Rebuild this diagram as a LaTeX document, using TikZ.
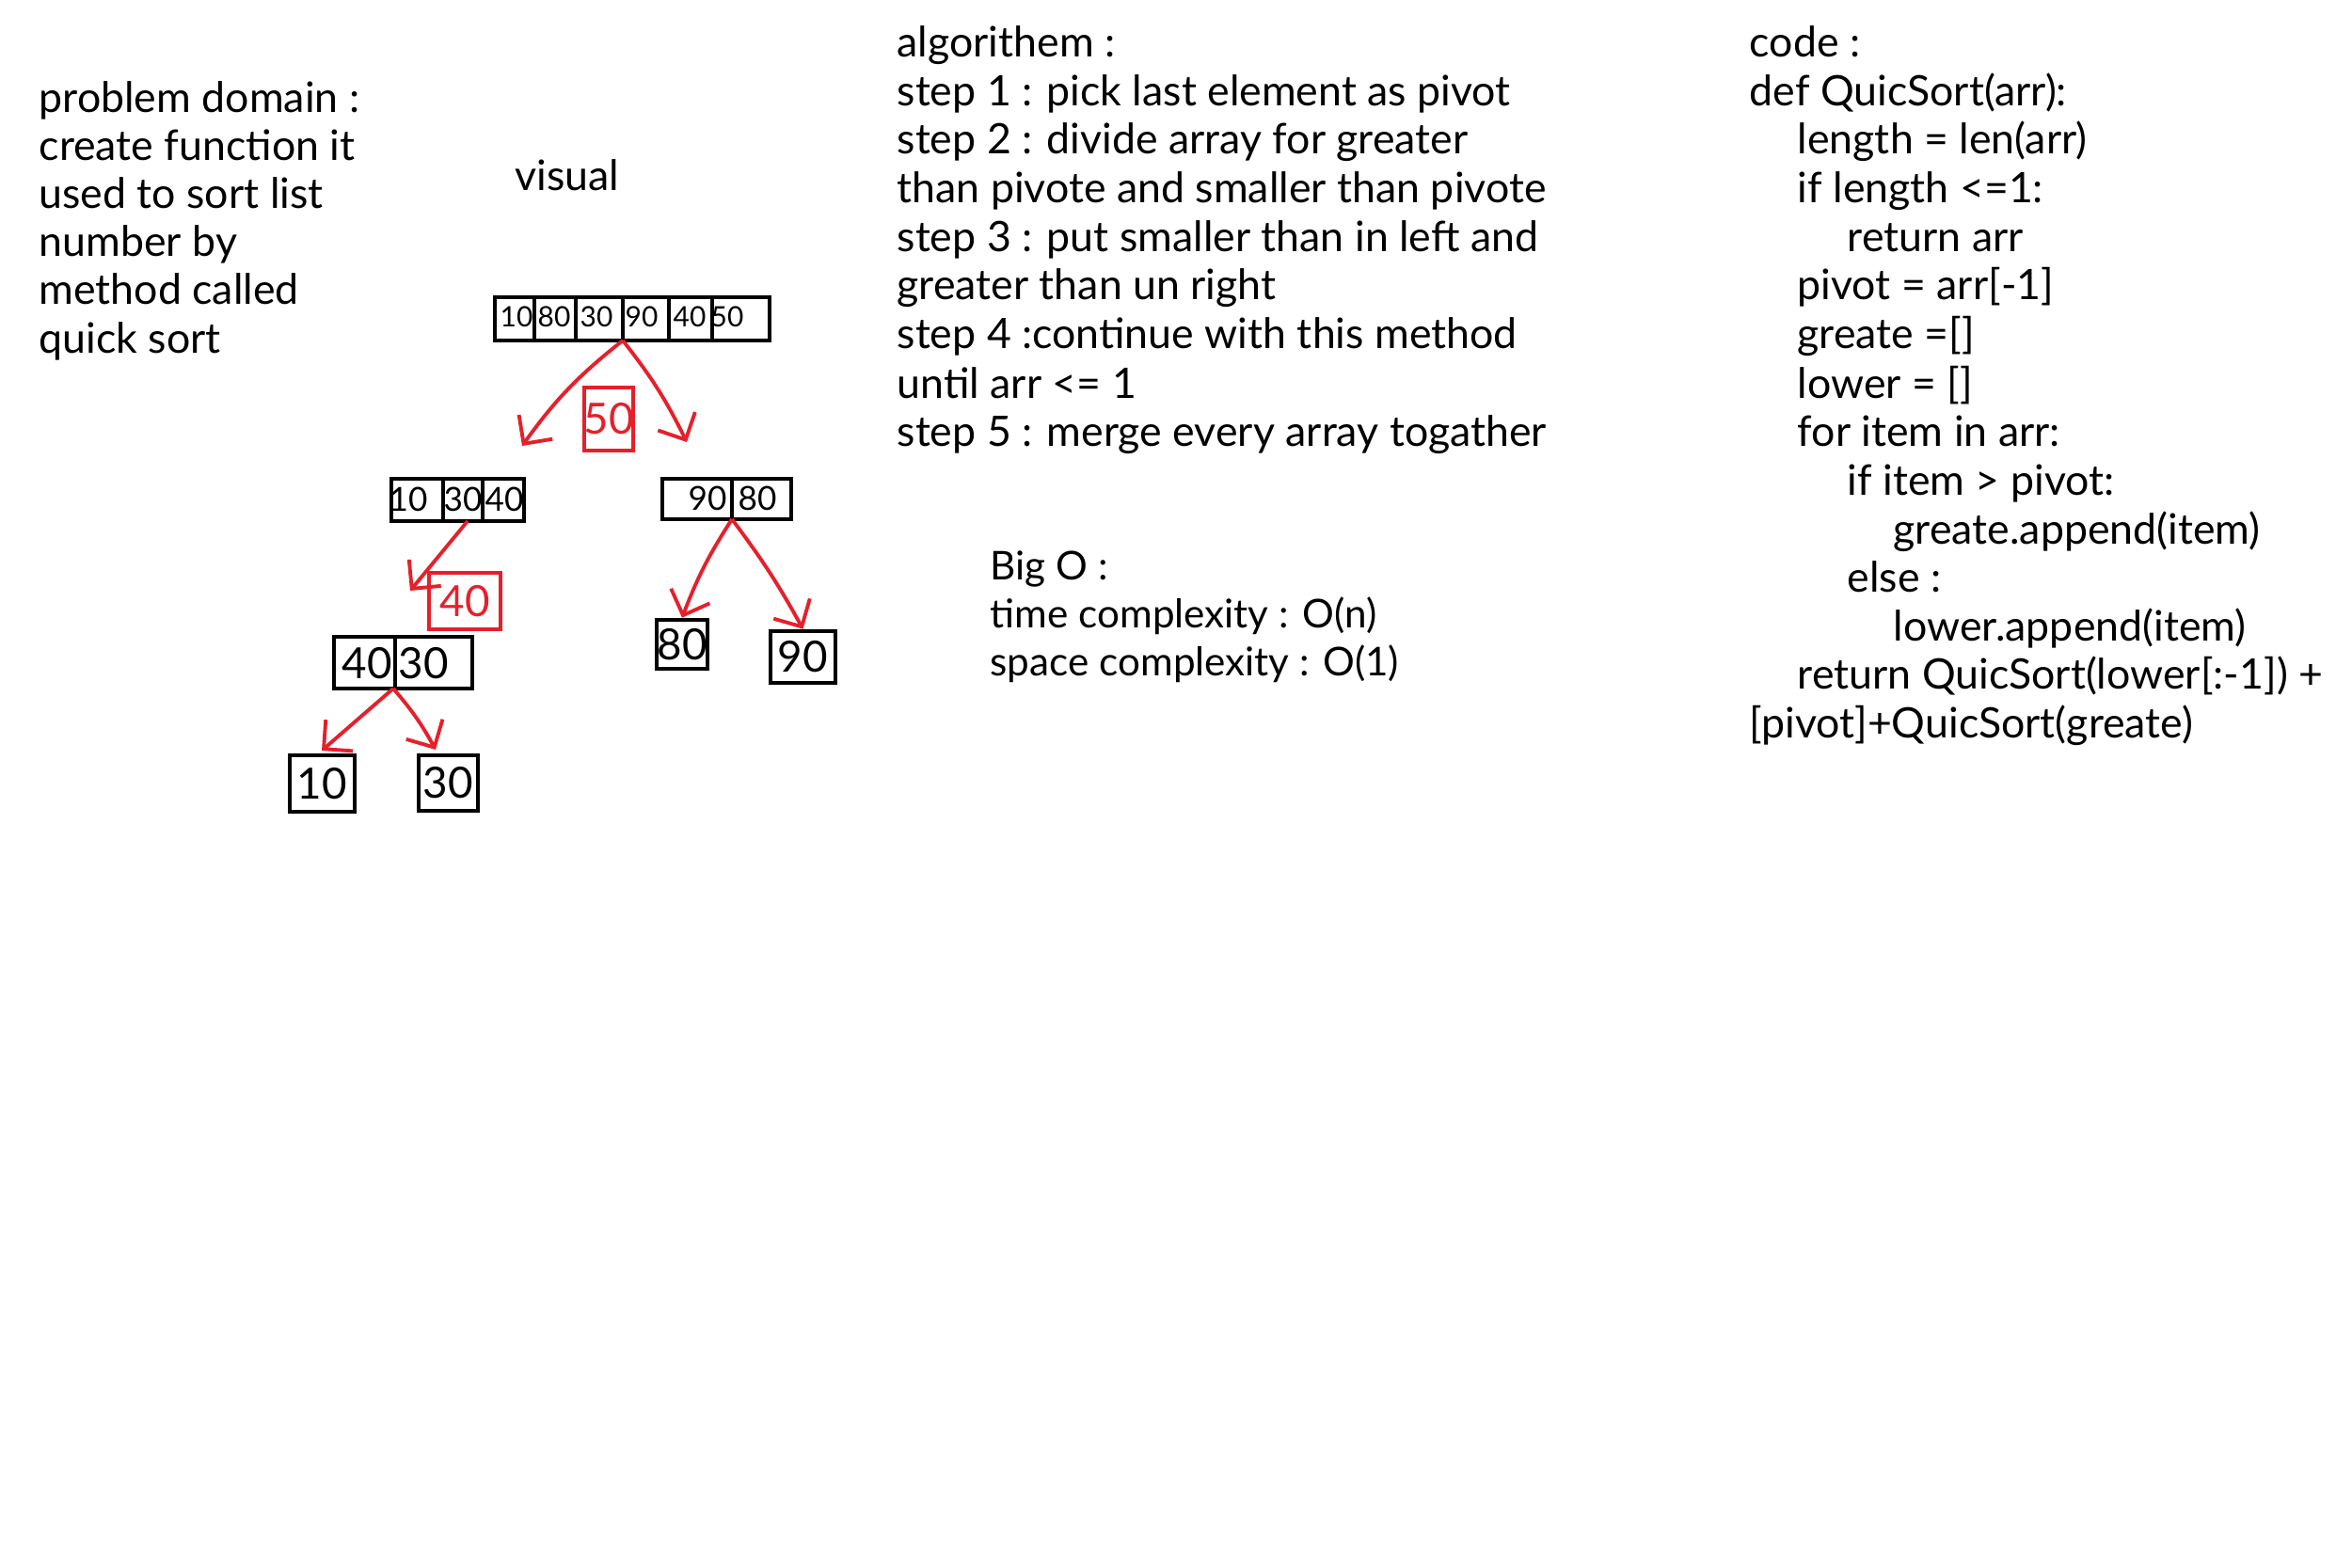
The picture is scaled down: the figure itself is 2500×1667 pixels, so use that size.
\documentclass[tikz,border=0pt]{standalone}
\usepackage{fontspec}
\setmainfont{Lato}
\usetikzlibrary{fit,arrows.meta}
\definecolor{penred}{HTML}{E6202B}
\tikzset{
  txt/.style={anchor=base west, inner sep=0pt, font=\fontsize{12.7}{14}\selectfont},
  bigotxt/.style={anchor=base west, inner sep=0pt, font=\fontsize{12}{14}\selectfont},
  arraybox/.style={draw, line width=1.3pt, inner sep=0pt},
  celltxt/.style={inner sep=0pt, font=\fontsize{8.5}{9}\selectfont},
  midtxt/.style={inner sep=0pt, font=\fontsize{10}{11}\selectfont},
  bigtxt/.style={inner sep=0pt, font=\fontsize{13}{15}\selectfont},
  divider/.style={line width=1.3pt},
  redarrow/.style={draw=penred, line width=1.1pt, -{Straight Barb[length=2.2mm,width=4.4mm]}},
  pivotbox/.style={draw=penred, line width=1.1pt, inner sep=0pt, text=penred, font=\fontsize{13}{15}\selectfont},
  leafbox/.style={draw, line width=1.3pt, inner sep=0pt, font=\fontsize{13}{15}\selectfont}
}
\begin{document}
\begin{tikzpicture}[x=0.01cm, y=-0.01cm]
\useasboundingbox[fill=white] (0,0) rectangle (2500,1667);

% ---------- problem domain ----------
\node[txt] (p1) at (41,120) {problem domain :};
\node[txt] (p2) at (41,171) {create function it};
\node[txt] (p3) at (41,222) {used to sort list};
\node[txt] (p4) at (41,273) {number by};
\node[txt] (p5) at (41,324) {method called};
\node[txt] (p6) at (41,376) {quick sort};

\node[txt] (vis) at (547,203) {visual};

% ---------- algorithm ----------
\node[txt] (a1) at (953,61) {algorithem :};
\node[txt] (a2) at (953,113) {step 1 : pick last element as pivot};
\node[txt] (a3) at (953,164) {step 2 : divide array for greater};
\node[txt] (a4) at (953,216) {than pivote and smaller than pivote};
\node[txt] (a5) at (953,268) {step 3 : put smaller than in left and};
\node[txt] (a6) at (953,319) {greater than un right};
\node[txt] (a7) at (953,371) {step 4 :continue with this method};
\node[txt] (a8) at (953,423) {until arr <= 1};
\node[txt] (a9) at (953,475) {step 5 : merge every array togather};

% ---------- Big O ----------
\node[bigotxt] (b1) at (1052,616) {Big O :};
\node[bigotxt] (b2) at (1052,667) {time complexity : O(n)};
\node[bigotxt] (b3) at (1052,718) {space complexity : O(1)};

% ---------- code ----------
\node[txt] (c1) at (1859,61) {code :};
\node[txt] (c2) at (1859,113) {def QuicSort(arr):};
\node[txt] (c3) at (1910,164) {length = len(arr)};
\node[txt] (c4) at (1910,216) {if length <=1:};
\node[txt] (c5) at (1963,268) {return arr};
\node[txt] (c6) at (1910,319) {pivot = arr[-1]};
\node[txt] (c7) at (1910,371) {greate =[]};
\node[txt] (c8) at (1910,423) {lower = []};
\node[txt] (c9) at (1910,475) {for item in arr:};
\node[txt] (c10) at (1963,526) {if item > pivot:};
\node[txt] (c11) at (2012,578) {greate.append(item)};
\node[txt] (c12) at (1963,629) {else :};
\node[txt] (c13) at (2012,681) {lower.append(item)};
\node[txt] (c14) at (1910,732) {return QuicSort(lower[:-1]) +};
\node[txt] (c15) at (1859,784) {[pivot]+QuicSort(greate)};

% ---------- top array ----------
\coordinate (topNW) at (526,316);
\coordinate (topSE) at (818,362);
\node[arraybox, fit=(topNW)(topSE)] (top) {};
\foreach \xx in {568,612,662,711,757} \draw[divider] (\xx,316) -- (\xx,362);
\node[celltxt] (t1) at (549,337) {10};
\node[celltxt] (t2) at (589,337) {80};
\node[celltxt] (t3) at (634,337) {30};
\node[celltxt] (t4) at (682,337) {90};
\node[celltxt] (t5) at (733,337) {40};
\node[celltxt] (t6) at (773,337) {50};
\coordinate (topApex) at (662,362);

% pivot 50
\coordinate (p50a) at (621,412);
\coordinate (p50b) at (673,479);
\node[pivotbox, fit=(p50a)(p50b)] (piv50) {};
\node[bigtxt, text=penred] (piv50t) at (piv50.center) {50};

% ---------- middle-left array ----------
\coordinate (mlNW) at (416,509);
\coordinate (mlSE) at (557,554);
\node[arraybox, fit=(mlNW)(mlSE)] (ml) {};
\draw[divider] (471,509) -- (471,554);
\draw[divider] (513,509) -- (513,554);
\node[midtxt] (m1) at (434,531) {10};
\node[midtxt] (m2) at (492,531) {30};
\node[midtxt] (m3) at (536,531) {40};
\coordinate (mlApex) at (497,554);

% ---------- middle-right array ----------
\coordinate (mrNW) at (704,509);
\coordinate (mrSE) at (841,552);
\node[arraybox, fit=(mrNW)(mrSE)] (mr) {};
\draw[divider] (778,509) -- (778,552);
\node[midtxt] (r1) at (752,530) {90};
\node[midtxt] (r2) at (805,530) {80};
\coordinate (mrApex) at (778,552);

% arrows from top array
\coordinate (tipL) at (555,474);
\coordinate (tipR) at (730,470);
\draw[redarrow] (topApex) to[bend right=8] (tipL);
\draw[redarrow] (topApex) to[bend left=6] (tipR);

% pivot 40
\coordinate (p40a) at (456,609);
\coordinate (p40b) at (532,669);
\node[pivotbox, fit=(p40a)(p40b)] (piv40) {};
\node[bigtxt, text=penred] (piv40t) at (piv40.center) {40};
\coordinate (tip40) at (436,628);
\draw[redarrow] (mlApex) -- (tip40);

% leaves 80 and 90
\coordinate (l80a) at (698,659);
\coordinate (l80b) at (752,711);
\node[leafbox, fit=(l80a)(l80b)] (leaf80) {};
\node[bigtxt] (leaf80t) at (leaf80.center) {80};
\coordinate (l90a) at (819,671);
\coordinate (l90b) at (888,726);
\node[leafbox, fit=(l90a)(l90b)] (leaf90) {};
\node[bigtxt] (leaf90t) at (leaf90.center) {90};
\draw[redarrow] (mrApex) to[bend right=6] (leaf80.north);
\draw[redarrow] (mrApex) to[bend left=4] (leaf90.north);

% ---------- 40|30 array ----------
\coordinate (lwNW) at (355,677);
\coordinate (lwSE) at (502,732);
\node[arraybox, fit=(lwNW)(lwSE)] (lw) {};
\draw[divider] (420,677) -- (420,732);
\node[bigtxt] (w1) at (390,705) {40};
\node[bigtxt] (w2) at (450,705) {30};
\coordinate (lwApex) at (418,732);

% leaves 10 and 30
\coordinate (l10a) at (308,803);
\coordinate (l10b) at (377,863);
\node[leafbox, fit=(l10a)(l10b)] (leaf10) {};
\node[bigtxt] (leaf10t) at (leaf10.center) {10};
\coordinate (l30a) at (445,803);
\coordinate (l30b) at (508,862);
\node[leafbox, fit=(l30a)(l30b)] (leaf30) {};
\node[bigtxt] (leaf30t) at (leaf30.center) {30};
\coordinate (tip10) at (342,798);
\coordinate (tip30) at (463,797);
\draw[redarrow] (lwApex) -- (tip10);
\draw[redarrow] (lwApex) to[bend left=6] (tip30);
\end{tikzpicture}
\end{document}
